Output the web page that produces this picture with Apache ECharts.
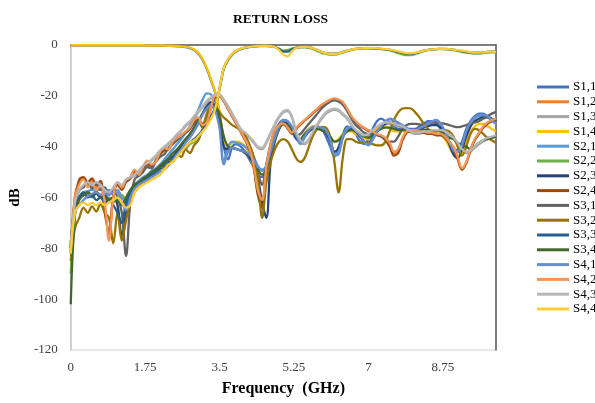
<!DOCTYPE html>
<html>
<head>
<meta charset="utf-8">
<script src="https://cdn.jsdelivr.net/npm/echarts@6/dist/echarts.min.js"></script>
<style>
html,body{margin:0;padding:0;background:#fff;}
#chart{width:595px;height:403px;}
</style>
</head>
<body>
<div id="chart"></div>
<script>
// Frequency axis (GHz)
const freq = [0,0.1,0.2,0.3,0.4,0.5,0.6,0.7,0.8,0.9,
1,1.1,1.2,1.3,1.4,1.5,1.6,1.7,1.8,1.9,
2,2.1,2.2,2.3,2.4,2.5,2.6,2.7,2.8,2.9,
3,3.1,3.2,3.3,3.4,3.5,3.6,3.7,3.8,3.9,
4,4.1,4.2,4.3,4.4,4.5,4.6,4.7,4.8,4.9,
5,5.1,5.2,5.3,5.4,5.5,5.6,5.7,5.8,5.9,
6,6.1,6.2,6.3,6.4,6.5,6.6,6.7,6.8,6.9,
7,7.1,7.2,7.3,7.4,7.5,7.6,7.7,7.8,7.9,
8,8.1,8.2,8.3,8.4,8.5,8.6,8.7,8.8,8.9,
9,9.1,9.2,9.3,9.4,9.5,9.6,9.7,9.8,9.9,10];

const xTicks = [0,1.75,3.5,5.25,7,8.75];
const yTicks = [0,-20,-40,-60,-80,-100,-120];

const names = ['S1,1','S1,2','S1,3','S1,4','S2,1','S2,2','S2,3','S2,4','S3,1','S3,2','S3,3','S3,4','S4,1','S4,2','S4,3','S4,4'];

const s11 = [-0.2,-0.2,-0.2,-0.2,-0.2,-0.2,-0.2,-0.2,-0.2,-0.2,
-0.2,-0.2,-0.2,-0.2,-0.2,-0.2,-0.2,-0.2,-0.2,-0.3,
-0.3,-0.3,-0.3,-0.3,-0.4,-0.5,-0.6,-0.8,-1.2,-2.0,
-3.4,-5.8,-9.4,-14,-19,-27,-40,-45,-40,-39,
-40,-42,-45,-48,-51,-52,-48,-42,-36,-32,
-30,-31,-34,-37,-38,-35,-33,-32,-32,-33,
-36,-40,-44,-40,-35,-32,-33,-35,-38,-39,
-37,-33,-30,-29,-30,-31,-32,-33,-33,-33,
-33,-33,-32,-31,-30,-30,-31,-33,-35,-38,
-42,-41,-38,-33,-30,-28,-27,-27,-28,-29,-30];

const s12 = [-81,-59,-54,-52.5,-55,-53.5,-56,-54.5,-64,-75,
-60,-55,-56.5,-53.5,-52,-49.5,-51,-48,-46,-47.5,
-45.5,-42.5,-41,-41,-38.5,-37,-35.5,-34.5,-32.5,-30,
-29,-31,-30,-24.5,-20,-19.8,-21.8,-25,-28,-31,
-34,-37,-40.5,-47.5,-58,-62,-48,-39,-33.5,-31.5,
-31,-32.5,-34.5,-32.8,-31.2,-29.6,-28.2,-26.7,-25.2,-23.7,
-22.7,-21.7,-21.2,-21.7,-22.7,-25.2,-28.2,-30.2,-31.7,-32.7,
-33.7,-34.2,-35.2,-35.8,-37,-39,-42.5,-41.5,-37,-34.2,
-33.8,-33.8,-34.2,-34.3,-34.8,-34.8,-35.3,-35.3,-36.3,-38.3,
-40.5,-44.5,-49,-46.3,-41.3,-37.3,-34.8,-32.3,-30.8,-29.8,-29.3];

const s13 = [-79,-61,-57.5,-55.5,-54.5,-55.5,-54.5,-55.5,-57.5,-58,
-56.5,-54.5,-55.5,-53.5,-52.5,-51.5,-50,-48,-47,-45.5,
-44,-42,-40.5,-39,-37.5,-35.5,-34,-32,-30.5,-28.5,
-26.5,-24.5,-22.5,-21,-20,-20,-22,-24.5,-27.5,-30.5,
-33.5,-35,-36.5,-38.5,-40.5,-41,-38.5,-35,-31.5,-28.5,
-26.5,-26,-28.5,-34.5,-38,-39,-37.5,-34.5,-31.5,-29,
-27,-26,-25.5,-26,-27.5,-29,-31.5,-34,-35,-36,
-35.5,-34,-32.5,-31.5,-31,-31,-31.5,-32,-32.5,-33.5,
-34.5,-35,-35,-34.5,-34.5,-34,-34,-34,-34.5,-35.5,
-37,-39,-41.5,-42.5,-42,-40.5,-39,-38,-37,-36.5,-36];

const s14 = [-0.1,-0.1,-0.1,-0.1,-0.1,-0.1,-0.1,-0.1,-0.1,-0.1,
-0.1,-0.1,-0.1,-0.1,-0.1,-0.1,-0.1,-0.1,-0.2,-0.2,
-0.2,-0.2,-0.2,-0.3,-0.3,-0.4,-0.5,-0.7,-1.0,-1.8,
-3.1,-5.4,-9,-13.5,-18.5,-26,-37,-40,-38.5,-38,
-38.5,-40,-43,-48,-52,-55,-50,-42,-36,-32,
-31,-32,-34,-36,-37,-35,-33,-32,-32,-33,
-34,-36,-38,-37,-35,-34,-34,-35,-36,-37,
-37,-35,-33,-32,-32,-33,-34,-34,-34,-34,
-34,-34,-34,-34,-34,-34,-34,-35,-37,-40,
-43,-44,-42,-38,-34,-32,-31,-31,-32,-33,-34];

const s21 = [-79,-64,-60,-58,-57.5,-57,-57.5,-56.5,-57.5,-57,
-58,-57,-60,-62,-58,-55,-53.5,-52,-51,-49.5,
-48.5,-47,-45,-43,-41,-39,-37,-34.5,-32,-29,
-25.5,-21.5,-19,-19.5,-23,-31,-46,-40,-38,-38.5,
-39,-40,-41.5,-44,-47.5,-49.5,-48,-42.5,-37,-32.5,
-30,-30.5,-32.5,-36,-39,-36.5,-34,-32.8,-32.5,-33,
-34,-37.5,-43.5,-43,-36.5,-33.3,-32.5,-33.8,-35.8,-38.3,
-39.5,-37.3,-34.3,-32.3,-30.3,-29.3,-29.8,-30.8,-31.8,-32.8,
-33.8,-33.8,-33,-32.3,-31.3,-30.3,-29.8,-31.3,-34.3,-38.3,
-41.8,-42.3,-39.8,-34.3,-30.8,-28.8,-27.9,-27.8,-28.3,-29.8,-31];

const s22 = [-90,-66,-60,-58,-59,-60,-58,-59,-61,-60,
-62,-60,-59,-61,-58,-56,-55,-54,-53,-51,
-50,-49,-47,-46,-45,-43,-42,-41,-39,-38,
-36,-34,-31,-28,-24.5,-17.5,-9.5,-6,-3.8,-2.4,
-1.6,-1.1,-0.8,-0.6,-0.5,-0.4,-0.4,-0.5,-0.8,-1.5,
-2.2,-2.0,-1.4,-1.0,-0.9,-0.9,-1.1,-1.6,-2.4,-3.1,
-3.5,-3.8,-3.8,-3.5,-3.0,-2.4,-1.9,-1.6,-1.4,-1.3,
-1.4,-1.4,-1.5,-1.6,-1.8,-2.1,-2.6,-3.2,-3.7,-4.0,
-4.0,-3.6,-3.0,-2.4,-2.0,-1.8,-1.7,-1.6,-1.7,-1.8,
-2.0,-2.3,-2.7,-3.0,-3.2,-3.4,-3.4,-3.2,-3.0,-2.9,-2.9];

const s23 = [-80,-65,-60,-59,-58,-59.5,-58.5,-60,-59,-61,
-60,-63,-75,-66,-58,-56,-54.5,-53.5,-52,-51,
-50,-48.5,-47.5,-46,-44,-42,-40,-38,-35.5,-33,
-30.5,-27,-24,-22.5,-24.5,-30,-40,-41,-40.5,-41,
-41.5,-42.5,-44,-47,-52,-62,-68,-46,-38,-33,
-30.5,-31,-33.5,-36.5,-38,-36,-34,-33,-33,-33.5,
-34.5,-37.5,-42,-40.5,-36,-33.5,-33,-34,-36,-38,
-38.5,-36.5,-34,-32.5,-31,-30.5,-31,-31.5,-32,-33,
-33.5,-33.5,-33,-32.5,-32,-31.5,-31.5,-32.5,-35,-39,
-43,-44.5,-41,-36,-32,-30,-29,-28.5,-28.5,-29,-30];

const s24 = [-80,-61,-53,-52,-54,-52.5,-55,-53.5,-66,-74,
-59,-55,-57,-54,-52.5,-50,-51.5,-48.5,-47,-47.5,
-45.5,-43,-41.5,-41,-38.5,-37,-35.5,-34.5,-33,-30.5,
-29.5,-31,-29.5,-24.5,-20.5,-20.2,-22.2,-25.2,-28.3,-31.3,
-34.3,-37.5,-41,-48,-59,-64,-49,-39.5,-34,-32,
-31.2,-32.8,-35,-33,-31.3,-29.8,-28.3,-26.8,-25.3,-23.8,
-22.8,-21.8,-21.3,-21.8,-22.8,-25.3,-28.3,-30.3,-31.8,-32.8,
-33.8,-34.3,-35.3,-36,-37.5,-40,-43.5,-42.5,-37.5,-34.5,
-34,-34,-34.3,-34.5,-35,-35,-35.5,-35.5,-36.5,-38.5,
-41,-45,-49,-46.5,-41.5,-37.5,-35,-32.5,-31,-30,-29.5];

const s31 = [-82,-64,-57,-56,-54,-56.5,-54.5,-57,-56,-59,
-57,-60,-66,-83,-62,-53,-51.5,-50,-48,-48.5,
-46,-44,-43,-40.5,-39,-37.5,-36,-34.5,-33,-31,
-30,-32.5,-29,-24,-20.5,-20,-22,-24.5,-27.5,-30.5,
-33.5,-36,-39.5,-44,-50,-55,-47,-39,-34,-31,
-29.5,-30,-33,-35.5,-35,-33,-31,-29,-27,-25,
-23.5,-22.3,-21.8,-22.3,-23.5,-26,-29,-31.5,-33,-34.5,
-35,-35,-35.5,-36,-37,-38,-38,-36,-33,-31.5,
-31,-31,-31.2,-31.5,-31,-30.5,-30.5,-30.8,-31,-31.5,
-32,-32.3,-32,-31.5,-31,-30.5,-30,-29,-28,-27,-26.3];

const s32 = [-85,-72,-68,-64,-66,-63.5,-65.5,-62.5,-66,-68,
-78,-66,-77,-69,-62,-58,-56,-54,-53.5,-51,
-50,-47.5,-48.5,-45,-46,-43,-44,-41,-42.5,-39.5,
-37.5,-33,-27,-24.5,-24.5,-26.5,-28.5,-30,-31.5,-32.5,
-33.5,-35.5,-39,-44,-52,-68,-54,-46,-41,-38,
-37,-38,-41,-44.5,-46,-44.5,-40,-35.5,-33,-32.2,
-32.5,-36,-46,-58,-44,-37,-37,-38,-38.5,-38.5,
-38.5,-39,-39.5,-39.5,-38,-34,-29.5,-26.5,-25,-24.8,
-25,-26.5,-28.5,-31,-33,-34,-34,-33.5,-33.5,-34,
-36,-40,-43.5,-40,-35,-33,-33.5,-35,-36.5,-37.5,-38.5];

const s33 = [-78,-64,-60,-58,-60,-59,-61,-60,-62,-61,
-63,-66,-70,-62,-58,-56,-55,-53,-52,-51,
-50,-48,-47,-45,-44,-43,-41,-40,-38.5,-37,
-35.5,-33.5,-31,-28,-24.5,-17,-9,-5.7,-3.6,-2.3,
-1.5,-1.0,-0.7,-0.5,-0.4,-0.3,-0.3,-0.4,-0.7,-1.6,
-2.6,-2.6,-1.8,-1.1,-0.8,-0.7,-0.8,-1.3,-2.0,-2.7,
-3.2,-3.4,-3.4,-3.2,-2.7,-2.2,-1.8,-1.5,-1.3,-1.2,
-1.2,-1.3,-1.4,-1.5,-1.7,-1.9,-2.3,-2.7,-3.1,-3.4,
-3.5,-3.2,-2.7,-2.2,-1.9,-1.7,-1.6,-1.5,-1.5,-1.6,
-1.8,-2.1,-2.4,-2.7,-2.9,-3.0,-3.0,-2.9,-2.7,-2.6,-2.6];

const s34 = [-102,-67,-61,-59,-58,-59,-58,-59.5,-60,-61,
-60,-61,-63,-60,-57,-55,-54,-52.5,-51.5,-50,
-49,-47.5,-46,-44.5,-42.5,-41,-39,-37,-35,-32.5,
-30,-27,-25,-23.5,-24,-28,-36,-40,-40.5,-41,
-41.5,-42,-43.5,-45.5,-49,-51,-49,-43,-37,-33,
-31,-31.5,-33.5,-36,-37,-35,-33.5,-33,-33,-33.5,
-34.5,-36,-38,-37.5,-35.5,-34,-33.5,-34,-35,-36,
-36.5,-35.5,-34,-33,-32.5,-32.5,-33,-33.5,-33.5,-33.5,
-33.5,-33.5,-33.5,-33.5,-33.5,-33.5,-33.5,-34,-35.5,-36.5,
-37,-38.5,-39.5,-40,-41,-40,-38.5,-37.5,-37,-36.5,-36];

const s41 = [-78,-66,-63,-61,-59.5,-58.5,-58,-59,-58.5,-59,
-58,-58,-62,-65,-60,-56.5,-55,-54,-53,-52,
-51,-50,-49,-47.5,-45.5,-43,-41,-38.5,-36.5,-34,
-31,-27.5,-25,-23.7,-26,-33,-47,-42,-40.5,-41,
-41.5,-42,-43,-45,-48,-49,-47.5,-42,-36.5,-32,
-29.5,-30,-32,-35.5,-38.5,-36,-33.5,-32.3,-32.2,-32.5,
-33.5,-37,-43,-42,-36,-33,-32.3,-33.5,-35.5,-38,
-39.3,-37,-34,-32,-30,-29,-29.5,-30.5,-31.5,-32.5,
-33.5,-33.5,-32.8,-32,-31,-30,-29.5,-31,-34,-38,
-41.5,-42,-39.5,-34,-30.5,-28.5,-27.6,-27.5,-28,-29.5,-30.8];

const s42 = [-82,-60,-55,-53,-56,-54,-57,-55,-62,-77,
-60,-54,-56,-53,-52,-49,-51,-48,-45.5,-47,
-46,-42,-40.5,-41,-38,-36.5,-35.5,-34,-32.5,-29.5,
-28.5,-31.5,-30.5,-24.5,-20,-20,-22,-25,-28,-31,
-34,-37,-40.5,-47,-57,-61,-48,-39,-33.5,-31.5,
-30.8,-32.5,-34.5,-32.5,-31,-29.5,-28,-26.5,-25,-23.5,
-22.5,-21.5,-21,-21.5,-22.5,-25,-28,-30,-31.5,-32.5,
-33.5,-34,-35,-35.5,-36.5,-38.5,-42,-41,-36.5,-34,
-33.5,-33.5,-34,-34,-34.5,-34.5,-35,-35,-36,-38,
-40,-44,-48.5,-46,-41,-37,-34.5,-32,-30.5,-29.5,-29];

const s43 = [-80,-62,-57,-55,-54,-55,-54,-55,-57,-58,
-56,-54,-55,-53,-52,-51,-49.5,-47.5,-46.5,-45,
-43.5,-41.5,-40,-38.5,-37,-35,-33.5,-31.5,-30,-28,
-26,-24,-22,-20.5,-19.5,-19.5,-21.5,-24,-27,-30,
-33,-34.5,-36,-38,-40,-40.5,-38,-34.5,-31,-28,
-26,-25.5,-28,-34,-37.5,-38.5,-37,-34,-31,-28.5,
-26.5,-25.5,-25,-25.5,-27,-28.5,-31,-33.5,-34.5,-35.5,
-35,-33.5,-32,-31,-30.5,-30.5,-31,-31.5,-32,-33,
-34,-34.5,-34.5,-34,-34,-33.5,-33.5,-33.5,-34,-35,
-36.5,-38.5,-41,-42,-41.5,-40,-38.5,-37.5,-36.5,-36,-35.5];

const s44 = [-82,-66,-63,-62,-63,-62,-63,-62,-63,-62,
-61,-60,-62,-64,-63,-58,-56,-55,-54,-53,
-52,-51,-49,-47,-46,-44,-42,-40,-38.5,-37.5,
-36,-34,-32,-29,-25,-17,-9,-5.5,-3.5,-2.2,
-1.4,-1.0,-0.7,-0.5,-0.4,-0.3,-0.3,-0.4,-0.8,-2.0,
-3.8,-4.5,-2.5,-1.2,-0.8,-0.7,-0.8,-1.3,-2.0,-2.7,
-3.2,-3.5,-3.5,-3.3,-2.8,-2.2,-1.8,-1.5,-1.3,-1.2,
-1.2,-1.2,-1.3,-1.4,-1.6,-1.8,-2.1,-2.5,-2.9,-3.2,
-3.3,-3.1,-2.7,-2.2,-1.9,-1.7,-1.6,-1.5,-1.5,-1.6,
-1.8,-2.0,-2.2,-2.5,-2.8,-3.0,-3.0,-2.9,-2.7,-2.6,-2.7];

const seriesValues = [s11,s12,s13,s14,s21,s22,s23,s24,s31,s32,s33,s34,s41,s42,s43,s44];
const colors = ['#4472C4','#ED7D31','#A5A5A5','#FFC000','#5B9BD5','#70AD47','#264478','#9E480E',
                '#636363','#997300','#255E91','#43682B','#698ED0','#F1975A','#B7B7B7','#FFCD33'];

const SERIF = '"Liberation Serif", "Times New Roman", serif';
const chart = echarts.init(document.getElementById('chart'), null, {renderer:'canvas'});

const series = names.map((n, k) => ({
  name: n,
  type: 'line',
  data: freq.map((f, i) => [f, seriesValues[k][i]]),
  showSymbol: false,
  symbol: 'none',
  smooth: 0.35,
  color: colors[k],
  lineStyle: { width: 2.3, color: colors[k] },
  itemStyle: { color: colors[k] },
  emphasis: { disabled: true },
  silent: true
}));

chart.setOption({
  animation: false,
  backgroundColor: '#fff',
  title: {
    text: 'RETURN LOSS',
    left: 228, top: 8,
    textStyle: { fontFamily: SERIF, fontWeight: 'bold', fontSize: 13.5, color: '#000' }
  },
  legend: {
    orient: 'vertical',
    left: 532, top: 75,
    icon: 'rect',
    itemWidth: 32, itemHeight: 3,
    itemGap: 0.8,
    data: names,
    textStyle: { fontFamily: SERIF, fontSize: 13, color: '#000', lineHeight: 14, padding: [0,0,0,-1] }
  },
  grid: {
    left: 67, right: 99, top: 45, bottom: 53,
    show: true, borderColor: '#d0d0d0', borderWidth: 1, backgroundColor: '#fff'
  },
  xAxis: {
    type: 'value', min: 0, max: 10, interval: 1.75,
    name: 'Frequency  (GHz)', nameLocation: 'middle', nameGap: 31,
    nameTextStyle: { fontFamily: SERIF, fontWeight: 'bold', fontSize: 16, color: '#000' },
    axisLine: { show: true, lineStyle: { color: '#595959', width: 1.5 } },
    axisTick: { show: false },
    splitLine: { show: false },
    axisLabel: {
      fontFamily: SERIF, fontSize: 13, color: '#404040', margin: 11,
      showMaxLabel: false,
      formatter: v => (xTicks.some(t => Math.abs(t - v) < 1e-6) ? String(v) : '')
    }
  },
  yAxis: [{
    type: 'value', min: -120, max: 0, interval: 20,
    name: 'dB', nameLocation: 'middle', nameGap: 44,
    nameTextStyle: { fontFamily: SERIF, fontWeight: 'bold', fontSize: 15, color: '#000' },
    axisLine: { show: true, lineStyle: { color: '#c8c8c8', width: 1.5 } },
    axisTick: { show: false },
    splitLine: { show: false },
    axisLabel: {
      fontFamily: SERIF, fontSize: 13, color: '#404040', margin: 13,
      formatter: v => (yTicks.indexOf(v) >= 0 ? String(v) : '')
    }
  }, {
    type: 'value', min: -120, max: 0, interval: 20, position: 'right',
    axisLine: { show: true, onZero: false, lineStyle: { color: '#595959', width: 1.5 } },
    axisTick: { show: false }, axisLabel: { show: false }, splitLine: { show: false }
  }],
  series: series
});
</script>
</body>
</html>
